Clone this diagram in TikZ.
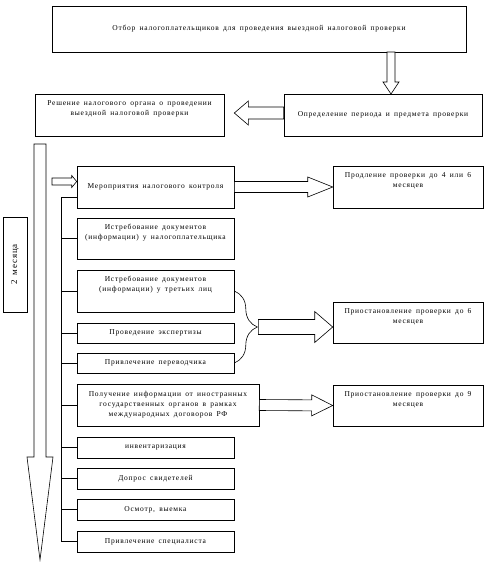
\documentclass[tikz,border=0pt]{standalone}
\usepackage{fontspec}
\setmainfont{Liberation Serif}[LetterSpace=10,WordSpace=1.6]
\usetikzlibrary{calc,decorations.pathreplacing}

\tikzset{
  box/.style={draw, line width=0.6pt, align=center, inner sep=2pt, font=\fontsize{7.5}{10}\selectfont},
  uptext/.style={label={[font=\fontsize{7.5}{10}\selectfont, align=center, anchor=north, yshift=-3pt]north:{#1}}},
  link/.style={line width=0.6pt},
  hollow/.style={draw, line width=0.6pt, line join=miter, fill=white}
}

% hollow block arrow: from, to, half shaft, half head, head length
\newcommand{\hollowarrow}[5]{%
  \coordinate (hb) at ($(#2)!#5!(#1)$);
  \draw[hollow] ($(#1)!#3!-90:(#2)$) -- ($(hb)!#3!90:(#1)$) -- ($(hb)!#4!90:(#1)$)
    -- (#2) -- ($(hb)!#4!-90:(#1)$) -- ($(hb)!#3!-90:(#1)$) -- ($(#1)!#3!90:(#2)$) -- cycle;}

\begin{document}
\begin{tikzpicture}[x=1pt, y=-1pt]
        \useasboundingbox (0,0) rectangle (497,562);

        % Top part
        \node[box, minimum width=414, minimum height=46] (select) at (259,29) {Отбор налогоплательщиков для проведения выездной налоговой проверки};
        \node[box, minimum width=198, minimum height=42] (period) at (383,115) {Определение периода и предмета проверки};
        \node[box, minimum width=189, minimum height=42, uptext={Решение налогового органа о проведении\\выездной налоговой проверки}] (decision) at (129.5,115) {};

        \coordinate (dtop) at (391,52);
        \coordinate (dtip) at (391,94);
        \hollowarrow{dtop}{dtip}{4pt}{8pt}{12pt}
        \coordinate (ltip) at ($(decision.east)+(10,-2)$);
        \coordinate (lstart) at (period.west |- ltip);
        \hollowarrow{lstart}{ltip}{6pt}{12pt}{14pt}

        % Time line
        \node[box, rotate=90, minimum width=95, minimum height=24, font=\fontsize{9}{11}\selectfont] (months) at (15,264.5) {2 месяца};
        \coordinate (vtop) at (40,144);
        \coordinate (vtip) at (40,560);
        \hollowarrow{vtop}{vtip}{6pt}{13pt}{103pt}

        % Control measures
        \node[box, minimum width=157, minimum height=42] (control) at (155.5,187) {Мероприятия налогового контроля};
        \node[box, minimum width=157, minimum height=41, uptext={Истребование документов\\(информации) у налогоплательщика}] (docs1) at (155.5,238.5) {};
        \node[box, minimum width=157, minimum height=42, uptext={Истребование документов\\(информации) у третьих лиц}] (docs2) at (155.5,291) {};
        \node[box, minimum width=157, minimum height=20] (expert) at (155.5,333) {Проведение экспертизы};
        \node[box, minimum width=157, minimum height=20] (transl) at (155.5,363) {Привлечение переводчика};
        \node[box, minimum width=182, minimum height=42] (foreign) at (168,405) {Получение информации от иностранных\\государственных органов в рамках\\международных договоров РФ};
        \node[box, minimum width=157, minimum height=21] (invent) at (155.5,447.5) {инвентаризация};
        \node[box, minimum width=157, minimum height=21] (witness) at (155.5,478.5) {Допрос свидетелей};
        \node[box, minimum width=157, minimum height=21] (inspect) at (155.5,509.5) {Осмотр, выемка};
        \node[box, minimum width=157, minimum height=21] (spec) at (155.5,541.5) {Привлечение специалиста};

        \coordinate (sa) at (52,181.5);
        \coordinate (sb) at (control.west |- sa);
        \hollowarrow{sa}{sb}{3.5pt}{6pt}{5pt}

        \coordinate (rtop) at (61,197);
        \draw[link] (rtop) -- (rtop -| control.west);
        \draw[link] (rtop) -- (rtop |- spec.west);
        \foreach \b in {docs1,docs2,expert,transl,foreign,invent,witness,inspect,spec}
          \draw[link] (rtop |- \b.west) -- (\b.west);

        % Results
        \node[box, minimum width=150, minimum height=42, uptext={Продление проверки до 4 или 6\\месяцев}] (extend) at (408,187) {};
        \node[box, minimum width=150, minimum height=41, uptext={Приостановление проверки до 6\\месяцев}] (susp6) at (408,322.5) {};
        \node[box, minimum width=150, minimum height=41, uptext={Приостановление проверки до 9\\месяцев}] (susp9) at (408,405.5) {};

        \hollowarrow{control.east}{extend.west}{5.5pt}{10pt}{25pt}
        \draw[link, decorate, decoration={brace, amplitude=23pt}] (docs2.east) -- (transl.east);
        \coordinate (btip) at ($(docs2.east)!0.5!(transl.east)+(24,0)$);
        \coordinate (bend) at (susp6.west |- btip);
        \hollowarrow{btip}{bend}{7.5pt}{15.5pt}{18pt}
        \hollowarrow{foreign.east}{susp9.west}{5.5pt}{10.5pt}{21pt}
    \end{tikzpicture}
\end{document}
